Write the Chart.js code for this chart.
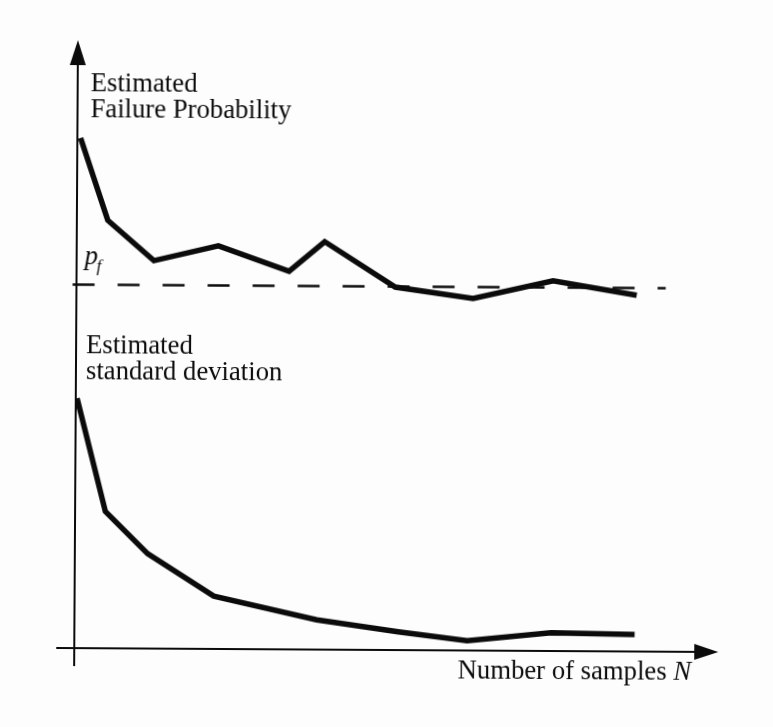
<!DOCTYPE html>
<html>
<head>
<meta charset="utf-8">
<script src="https://cdn.jsdelivr.net/npm/chart.js@4.4.1/dist/chart.umd.min.js"></script>
<style>
  html, body { margin: 0; padding: 0; background: #fdfdfd; overflow: hidden; }
  #wrap { width: 773px; height: 727px; }
  /* the printed figure sits a little askew on the page */
  #chart { transform: rotate(0.35deg); transform-origin: 50% 50%; }
</style>
</head>
<body>
<div id="wrap"><canvas id="chart" width="773" height="727"></canvas></div>
<script>
// Sample counts (relative units along the N axis)
const failureN = [0.5, 4.8, 12, 22, 33, 38.5, 49.5, 61.6, 74, 87];
const failureEst = [83.9, 70.4, 63.8, 66.3, 62.2, 67.1, 59.7, 57.9, 60.9, 58.6];

const stdN = [0.2, 4.7, 11.3, 21.6, 37.6, 50.3, 61, 74, 87];
const stdEst = [41.1, 22.5, 15.6, 8.7, 4.9, 3.0, 1.6, 3.0, 2.8];

// true failure probability, drawn as a dashed reference level
const pfLevel = 59.8;
const pfSpan = [-0.6, 91.5];

const INK = '#0b0b0b';
const SERIF = '"Liberation Serif", "DejaVu Serif", serif';
const FONT_PX = 26.7;

const toPoints = (xs, ys) => xs.map((x, i) => ({ x, y: ys[i] }));

// converts a pixel row of the page into the y scale's units
function insetY(py) {
  return (650 - py) / 608 * 100;
}

// arrowed axes crossing at the origin, plus the hand-placed labels
const axesPlugin = {
  id: 'axes',
  beforeDatasetsDraw(chart) {
    const { ctx, scales: { x, y } } = chart;
    const x0 = x.getPixelForValue(0);
    const y0 = y.getPixelForValue(0);
    const top = y.getPixelForValue(y.max);
    const right = x.getPixelForValue(x.max);
    ctx.save();
    ctx.strokeStyle = INK;
    ctx.fillStyle = INK;
    ctx.lineWidth = 2;
    ctx.beginPath();
    ctx.moveTo(x0, y0 + 18);
    ctx.lineTo(x0, top + 20);
    ctx.moveTo(x0 - 18, y0);
    ctx.lineTo(right - 20, y0);
    ctx.stroke();
    // y arrow
    ctx.beginPath();
    ctx.moveTo(x0, top);
    ctx.lineTo(x0 - 8, top + 25);
    ctx.lineTo(x0 + 8, top + 25);
    ctx.closePath();
    ctx.fill();
    // x arrow
    ctx.beginPath();
    ctx.moveTo(right, y0);
    ctx.lineTo(right - 24, y0 - 8);
    ctx.lineTo(right - 24, y0 + 8);
    ctx.closePath();
    ctx.fill();
    ctx.restore();
  },
  afterDraw(chart) {
    const { ctx, scales: { x, y } } = chart;
    const x0 = x.getPixelForValue(0);
    ctx.save();
    ctx.fillStyle = INK;
    ctx.textBaseline = 'alphabetic';
    ctx.font = `${FONT_PX}px ${SERIF}`;
    ctx.fillText('Estimated', x0 + 13, y.getPixelForValue(insetY(93)));
    ctx.fillText('Failure Probability', x0 + 13, y.getPixelForValue(insetY(119)));
    ctx.fillText('Estimated', x0 + 10, y.getPixelForValue(insetY(355)));
    ctx.fillText('standard deviation', x0 + 10, y.getPixelForValue(insetY(381)));

    // p_f next to the dashed level
    const pfY = y.getPixelForValue(pfLevel);
    ctx.font = `italic ${FONT_PX}px ${SERIF}`;
    ctx.fillText('p', x0 + 8, pfY - 20);
    ctx.font = `italic 17px ${SERIF}`;
    ctx.fillText('f', x0 + 20, pfY - 13);

    // x axis title
    const y0 = y.getPixelForValue(0);
    ctx.textAlign = 'right';
    ctx.font = `italic ${FONT_PX}px ${SERIF}`;
    const nW = ctx.measureText('N').width;
    const endX = x.getPixelForValue(x.max) - 27;
    ctx.fillText('N', endX, y0 + 28);
    ctx.font = `${FONT_PX}px ${SERIF}`;
    ctx.fillText('Number of samples ', endX - nW, y0 + 28);
    ctx.restore();
  }
};

new Chart(document.getElementById('chart'), {
  type: 'line',
  data: {
    datasets: [
      {
        label: 'Estimated failure probability',
        data: toPoints(failureN, failureEst),
        borderColor: INK,
        borderWidth: 5.5,
        borderJoinStyle: 'miter'
      },
      {
        label: 'p_f',
        data: toPoints(pfSpan, [pfLevel, pfLevel]),
        borderColor: INK,
        borderWidth: 2.5,
        borderDash: [22, 23],
        clip: false
      },
      {
        label: 'Estimated standard deviation',
        data: toPoints(stdN, stdEst),
        borderColor: INK,
        borderWidth: 5.5,
        borderJoinStyle: 'miter'
      }
    ]
  },
  options: {
    responsive: false,
    animation: false,
    layout: { padding: { left: 76, right: 53, top: 42, bottom: 77 } },
    elements: { point: { radius: 0 }, line: { tension: 0 } },
    plugins: { legend: { display: false }, tooltip: { enabled: false } },
    scales: {
      x: { type: 'linear', min: 0, max: 100, display: false },
      y: { min: 0, max: 100, display: false }
    }
  },
  plugins: [axesPlugin]
});
</script>
</body>
</html>
